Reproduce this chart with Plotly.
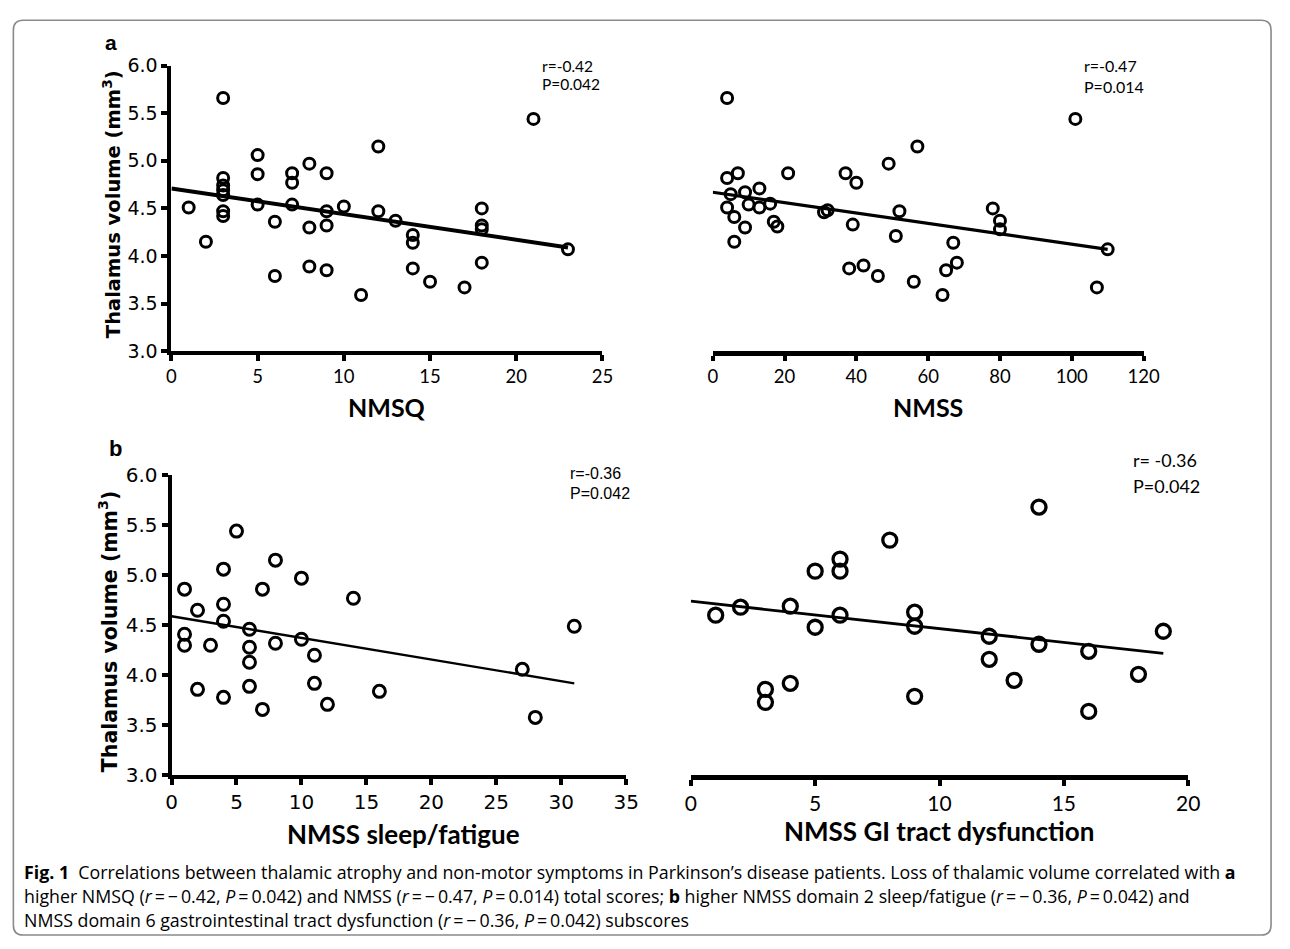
import plotly.graph_objects as go

# ---------------- data ----------------
# Panel a, left: NMSQ vs thalamus volume
nmsq_x = [1, 2, 3, 3, 3, 3, 3, 3, 3, 5, 5, 5, 6, 6, 7, 7, 7, 8, 8, 8,
          9, 9, 9, 9, 10, 11, 12, 12, 13, 14, 14, 14, 15, 17, 18, 18, 18, 18, 21, 23]
nmsq_y = [4.51, 4.15, 5.66, 4.82, 4.74, 4.69, 4.64, 4.47, 4.42, 5.06, 4.86, 4.54, 4.36, 3.79,
          4.87, 4.77, 4.54, 4.97, 4.30, 3.89, 4.87, 4.47, 4.32, 3.85, 4.52, 3.59, 5.15, 4.47,
          4.37, 4.22, 4.14, 3.87, 3.73, 3.67, 4.50, 4.32, 4.28, 3.93, 5.44, 4.07]
nmsq_fit_x = [0, 23]
nmsq_fit_y = [4.71, 4.09]

# Panel a, right: NMSS total vs thalamus volume
nmss_x = [4, 7, 4, 13, 9, 5, 21, 10, 13, 4, 16, 6, 9, 6, 17, 18, 31, 32, 37, 40,
          39, 38, 42, 46, 49, 52, 51, 57, 56, 64, 65, 68, 67, 78, 80, 80, 101, 110, 107]
nmss_y = [5.66, 4.87, 4.82, 4.71, 4.67, 4.65, 4.87, 4.54, 4.51, 4.51, 4.55, 4.41, 4.30, 4.15,
          4.36, 4.31, 4.46, 4.48, 4.87, 4.77, 4.33, 3.87, 3.90, 3.79, 4.97, 4.47, 4.21, 5.15,
          3.73, 3.59, 3.85, 3.93, 4.14, 4.50, 4.37, 4.28, 5.44, 4.07, 3.67]
nmss_fit_x = [0, 110]
nmss_fit_y = [4.67, 4.07]

# Panel b, left: NMSS sleep/fatigue
sleep_x = [1, 1, 1, 2, 2, 3, 4, 4, 4, 4, 5, 6, 6, 6, 6, 7, 7, 8, 8, 10, 10, 11, 11,
           12, 14, 16, 27, 28, 31]
sleep_y = [4.86, 4.41, 4.30, 4.65, 3.86, 4.30, 5.06, 4.71, 4.54, 3.78, 5.44, 4.46, 4.28,
           4.13, 3.89, 4.86, 3.66, 5.15, 4.32, 4.97, 4.36, 4.20, 3.92, 3.71, 4.77, 3.84,
           4.06, 3.58, 4.49]
sleep_fit_x = [0, 31]
sleep_fit_y = [4.59, 3.92]

# Panel b, right: NMSS GI tract dysfunction
gi_x = [1, 2, 3, 3, 4, 4, 5, 5, 6, 6, 6, 8, 9, 9, 9, 12, 12, 13, 14, 14, 16, 16, 18, 19]
gi_y = [4.60, 4.68, 3.86, 3.73, 4.69, 3.92, 5.04, 4.48, 5.16, 5.04, 4.60, 5.35, 4.63,
        4.49, 3.79, 4.39, 4.16, 3.95, 5.68, 4.31, 4.24, 3.64, 4.01, 4.44]
gi_fit_x = [0, 19]
gi_fit_y = [4.74, 4.22]

y_ticks = [3.0, 3.5, 4.0, 4.5, 5.0, 5.5, 6.0]
y_ticktext = ["3.0", "3.5", "4.0", "4.5", "5.0", "5.5", "6.0"]
nmsq_ticks = [0, 5, 10, 15, 20, 25]
nmss_ticks = [0, 20, 40, 60, 80, 100, 120]
sleep_ticks = [0, 5, 10, 15, 20, 25, 30, 35]
gi_ticks = [0, 5, 10, 15, 20]

stats_text = [("r=-0.42", "P=0.042"), ("r=-0.47", "P=0.014"),
              ("r=-0.36", "P=0.042"), ("r= -0.36", "P=0.042")]
x_titles = ["NMSQ", "NMSS", "NMSS sleep/fatigue", "NMSS GI tract dysfunction"]
y_title = "Thalamus volume (mm<sup>3</sup>)"

caption_lines = [
    "<b>Fig. 1</b>  Correlations between thalamic atrophy and non-motor symptoms in Parkinson’s disease patients. "
    "Loss of thalamic volume correlated with <b>a</b>",
    "higher NMSQ (<i>r</i>\u2009=\u2009−\u20090.42, <i>P</i>\u2009=\u20090.042) and NMSS (<i>r</i>\u2009=\u2009−\u20090.47, "
    "<i>P</i>\u2009=\u20090.014) total scores; <b>b</b> higher NMSS domain 2 sleep/fatigue "
    "(<i>r</i>\u2009=\u2009−\u20090.36, <i>P</i>\u2009=\u20090.042) and",
    "NMSS domain 6 gastrointestinal tract dysfunction (<i>r</i>\u2009=\u2009−\u20090.36, "
    "<i>P</i>\u2009=\u20090.042) subscores",
]

# ---------------- layout helpers ----------------
W, H = 1290, 949


def px(x):
    return x / W


def py(y):
    return 1 - y / H


fig = go.Figure()

panels = [
    dict(x=nmsq_x, y=nmsq_y, fx=nmsq_fit_x, fy=nmsq_fit_y, xa="x", ya="y", ms=11, mlw=3.0, flw=4.0),
    dict(x=nmss_x, y=nmss_y, fx=nmss_fit_x, fy=nmss_fit_y, xa="x2", ya="y2", ms=11, mlw=3.0, flw=3.2),
    dict(x=sleep_x, y=sleep_y, fx=sleep_fit_x, fy=sleep_fit_y, xa="x3", ya="y3", ms=12, mlw=3.0, flw=2.4),
    dict(x=gi_x, y=gi_y, fx=gi_fit_x, fy=gi_fit_y, xa="x4", ya="y4", ms=14, mlw=3.3, flw=2.8),
]
for p in panels:
    fig.add_trace(go.Scatter(x=p["fx"], y=p["fy"], mode="lines", xaxis=p["xa"], yaxis=p["ya"],
                             line=dict(color="black", width=p["flw"]), showlegend=False,
                             hoverinfo="skip", cliponaxis=False))
    fig.add_trace(go.Scatter(x=p["x"], y=p["y"], mode="markers", xaxis=p["xa"], yaxis=p["ya"],
                             marker=dict(symbol="circle-open", size=p["ms"], color="black",
                                         line=dict(width=p["mlw"], color="black")),
                             showlegend=False, cliponaxis=False))

axis_common = dict(showgrid=False, zeroline=False, showline=True, linecolor="black",
                   ticks="outside", tickcolor="black", fixedrange=True)

dv = "DejaVu Sans"
lato = "Lato, Open Sans, sans-serif"
arial = "Liberation Sans, Arial, sans-serif"

fig.update_layout(
    width=W, height=H, autosize=False,
    margin=dict(l=0, r=0, t=0, b=0, pad=0),
    paper_bgcolor="white", plot_bgcolor="white",
    xaxis=dict(domain=[px(168.3), px(606.8)], range=[0, 25], tickvals=nmsq_ticks, anchor="y",
               linewidth=4, tickwidth=3.5, ticklen=6,
               tickfont=dict(family=lato, size=18.5, color="black"), **axis_common),
    yaxis=dict(domain=[py(348), py(55)], range=[3, 6], tickvals=y_ticks, ticktext=y_ticktext,
               anchor="x", linewidth=4, tickwidth=3.5, ticklen=6,
               tickfont=dict(family=dv, size=19, color="black"), **axis_common),
    xaxis2=dict(domain=[px(719), px(1157.3)], range=[0, 120], tickvals=nmss_ticks, anchor="y2",
                linewidth=4.5, tickwidth=3.5, ticklen=5,
                tickfont=dict(family=lato, size=18.5, color="black"), **axis_common),
    yaxis2=dict(domain=[py(348), py(55)], range=[3, 6], anchor="x2", visible=False, fixedrange=True),
    xaxis3=dict(domain=[px(168.4), px(631)], range=[0, 35], tickvals=sleep_ticks, anchor="y3",
                linewidth=4, tickwidth=3.5, ticklen=6,
                tickfont=dict(family=dv, size=20, color="black"), **axis_common),
    yaxis3=dict(domain=[py(783.3), py(475)], range=[3, 6], tickvals=y_ticks, ticktext=y_ticktext,
                anchor="x3", linewidth=4, tickwidth=3.5, ticklen=6,
                tickfont=dict(family=dv, size=20, color="black"), **axis_common),
    xaxis4=dict(domain=[px(696.7), px(1202.7)], range=[0, 20], tickvals=gi_ticks, anchor="y4",
                linewidth=4.5, tickwidth=3.5, ticklen=6,
                tickfont=dict(family=lato, size=21, color="black"), **axis_common),
    yaxis4=dict(domain=[py(783.3), py(475)], range=[3, 6], anchor="x4", visible=False, fixedrange=True),
)

ann = []
# r / P statistics (pixel positions: left edge, line centres)
stat_pos = [
    (543.3, 55.0, 73.5, lato, 15.5),
    (1095.0, 55.0, 76.5, lato, 16),
    (571.7, 473.3, 493.5, arial, 16),
    (1144.2, 460.0, 486.0, lato, 18),
]
for (sx, sy1, sy2, fam, fs), (t1, t2) in zip(stat_pos, stats_text):
    for sy, t in ((sy1, t1), (sy2, t2)):
        ann.append(dict(xref="paper", yref="paper", x=px(sx), y=py(sy), text=t, showarrow=False,
                        xanchor="left", yanchor="middle",
                        font=dict(family=fam, size=fs, color="black")))

# panel letters
ann.append(dict(xref="paper", yref="paper", x=px(106.5), y=py(31), text="<b>a</b>", showarrow=False,
                xanchor="center", yanchor="middle", font=dict(family=arial, size=21, color="black")))
ann.append(dict(xref="paper", yref="paper", x=px(111.5), y=py(448), text="<b>b</b>", showarrow=False,
                xanchor="center", yanchor="middle", font=dict(family=arial, size=22, color="black")))

# y-axis titles
ann.append(dict(xref="paper", yref="paper", x=px(108), y=py(197), text="<b>" + y_title + "</b>",
                showarrow=False, textangle=-90, xanchor="center", yanchor="middle",
                font=dict(family=dv, size=19.5, color="black")))
ann.append(dict(xref="paper", yref="paper", x=px(105), y=py(635), text="<b>" + y_title + "</b>",
                showarrow=False, textangle=-90, xanchor="center", yanchor="middle",
                font=dict(family=dv, size=20.5, color="black")))

# x-axis titles
xt_pos = [(387.5, 405, 25), (938, 405, 25), (404, 843, 26), (949, 840, 26)]
for (cx, cy, fs), t in zip(xt_pos, x_titles):
    ann.append(dict(xref="paper", yref="paper", x=px(cx), y=py(cy), text="<b>" + t + "</b>",
                    showarrow=False, xanchor="center", yanchor="middle",
                    font=dict(family=lato, size=fs, color="black")))

# caption
cap_y = [882, 907, 932]
for cy, t in zip(cap_y, caption_lines):
    ann.append(dict(xref="paper", yref="paper", x=px(16.5), y=py(cy), text=t, showarrow=False,
                    xanchor="left", yanchor="middle",
                    font=dict(family="Open Sans, Lato, sans-serif", size=17.8, color="black")))

fig.update_layout(annotations=ann)

# rounded frame around the figure
x0, x1, yt, yb, r = 7.5, 1287.0, 8.5, 947.0, 10
rx, ry = r / W, r / H
X0, X1, YT, YB = px(x0), px(x1), py(yt), py(yb)
frame = (f"M {X0+rx},{YT} L {X1-rx},{YT} Q {X1},{YT} {X1},{YT-ry} L {X1},{YB+ry} "
         f"Q {X1},{YB} {X1-rx},{YB} L {X0+rx},{YB} Q {X0},{YB} {X0},{YB+ry} "
         f"L {X0},{YT-ry} Q {X0},{YT} {X0+rx},{YT} Z")
fig.add_shape(type="path", path=frame, xref="paper", yref="paper",
              line=dict(color="#8a8a8a", width=1.6), fillcolor="rgba(0,0,0,0)", layer="below")

fig.write_html(
    "out.html",
    config={"displayModeBar": False},
    post_script="document.body.style.margin='0';document.body.style.overflow='hidden';",
)
